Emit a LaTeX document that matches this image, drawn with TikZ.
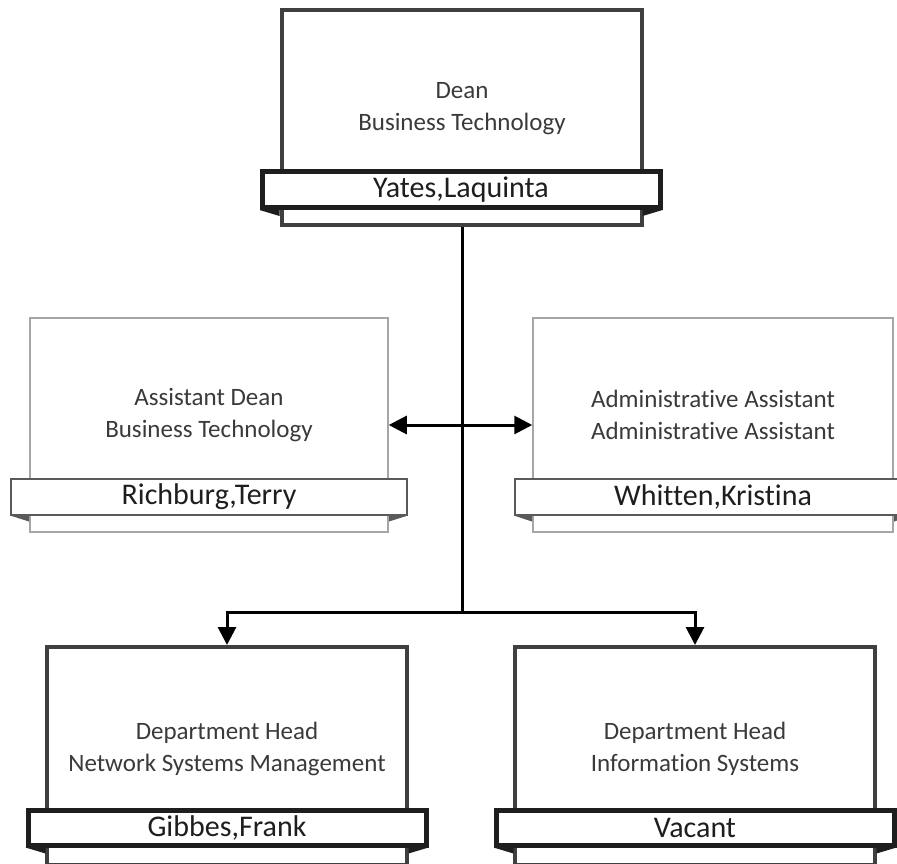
\documentclass[tikz,border=0pt]{standalone}
\usepackage{fontspec}
\setmainfont{Carlito}[Ligatures=NoCommon]
\usetikzlibrary{arrows.meta}
\definecolor{frame}{HTML}{3F3F3F}
\definecolor{band}{HTML}{1E1E1E}
\definecolor{lightframe}{HTML}{A6A6A6}
\definecolor{lightband}{HTML}{5A5A5A}
\definecolor{role}{HTML}{3A3A3A}

\begin{document}
\begin{tikzpicture}[x=1pt,y=-1pt,
  card/.style={draw=frame,line width=4pt,fill=white,minimum width=360pt,minimum height=215pt,inner sep=0pt},
  namebar/.style={draw=band,line width=5pt,fill=white,minimum width=398pt,minimum height=36pt,inner sep=0pt,font=\fontsize{30}{34}\selectfont,text=band},
  lightcard/.style={card,draw=lightframe,line width=1.5pt},
  lightbar/.style={namebar,draw=lightband,line width=2pt},
  roletext/.style={align=center,font=\fontsize{25}{32}\selectfont,text=role},
  link/.style={black,line width=3pt},
  tip/.style={-{Triangle[length=18pt,width=18pt]}}]
  \useasboundingbox (0,0) rectangle (897,864);
  \clip (0,0) rectangle (897,864);
  % dean
  \node[card] (dean) at (462,117.5) {};
  \node[namebar] (deanbar) at (461,189.5) {Yates,Laquinta};
  \fill[band] (deanbar.south west) -- ++(20,6) -- ++(0,-6) -- cycle;
  \fill[band] (deanbar.south east) -- ++(-20,6) -- ++(0,-6) -- cycle;
  \node[roletext] (deantxt) at (462,109) {Dean\\Business Technology};
  % staff
  \node[lightcard,minimum width=358pt,minimum height=214pt] (asst) at (209,425) {};
  \node[lightbar,minimum width=396pt] (asstbar) at (209,496.5) {Richburg,Terry};
  \fill[lightband] (asstbar.south west) -- ++(19,6) -- ++(0,-6) -- cycle;
  \fill[lightband] (asstbar.south east) -- ++(-19,6) -- ++(0,-6) -- cycle;
  \node[roletext] (assttxt) at (209,415) {Assistant Dean\\Business Technology};
  \node[lightcard,minimum height=214pt] (admin) at (713,425) {};
  \node[lightbar,minimum width=396pt] (adminbar) at (713,496.5) {Whitten,Kristina};
  \fill[lightband] (adminbar.south west) -- ++(18,6) -- ++(0,-6) -- cycle;
  \fill[lightband] (adminbar.south east) -- ++(-18,6) -- ++(0,-6) -- cycle;
  \node[roletext] (admintxt) at (713,415) {Administrative Assistant\\Administrative Assistant};
  % departments
  \node[card,minimum height=218pt] (nsm) at (227,756) {};
  \node[namebar,minimum height=35pt] (nsmbar) at (227,827.5) {Gibbes,Frank};
  \fill[band] (nsmbar.south west) -- ++(20,6) -- ++(0,-6) -- cycle;
  \fill[band] (nsmbar.south east) -- ++(-20,6) -- ++(0,-6) -- cycle;
  \node[roletext] (nsmtxt) at (227,749) {Department Head\\Network Systems Management};
  \node[card,minimum height=218pt] (infosys) at (695,756) {};
  \node[namebar,minimum height=35pt] (infosysbar) at (695,827.5) {Vacant};
  \fill[band] (infosysbar.south west) -- ++(20,6) -- ++(0,-6) -- cycle;
  \fill[band] (infosysbar.south east) -- ++(-20,6) -- ++(0,-6) -- cycle;
  \node[roletext] (infosystxt) at (695,749) {Department Head\\Information Systems};
  % connectors
  \coordinate (split) at (462,612);
  \draw[link] (dean.south) -- (split);
  \draw[link,tip] (split) -| (nsm.north);
  \draw[link,tip] (split) -| (infosys.north);
  \draw[link,{Triangle[length=18pt,width=18pt]}-{Triangle[length=18pt,width=18pt]}] (asst.east) -- (admin.west);
\end{tikzpicture}
\end{document}
